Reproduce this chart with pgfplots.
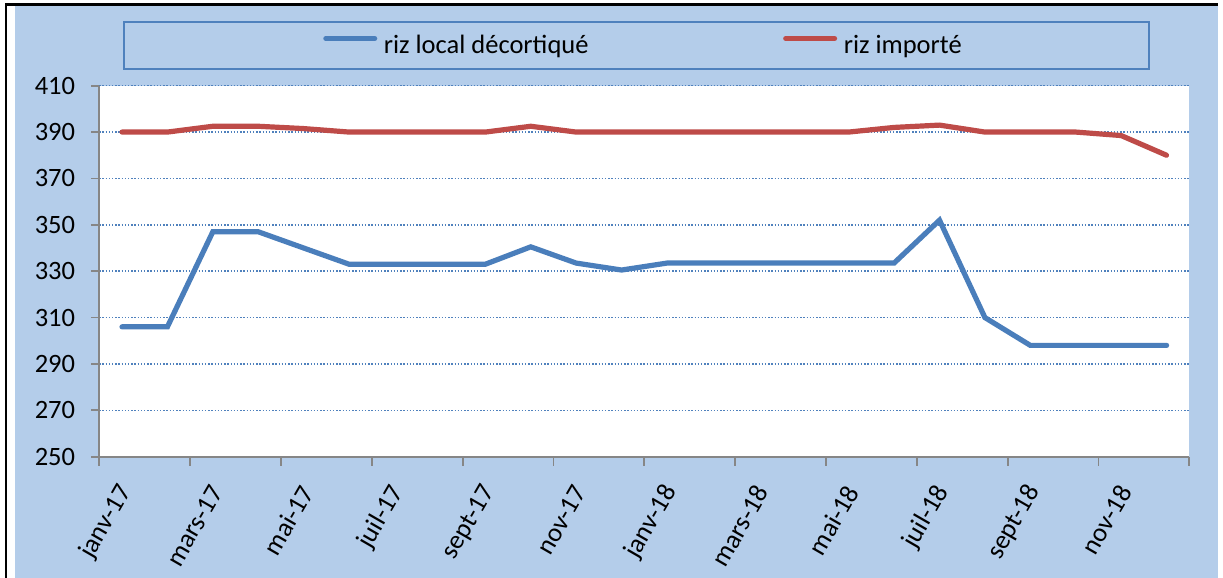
\documentclass[border=0pt]{standalone}
\usepackage{pgfplots}
\pgfplotsset{compat=1.18}
\usepackage{fontspec}
\setmainfont{Carlito}
\definecolor{bgblue}{RGB}{180,205,234}
\definecolor{gridblue}{RGB}{79,129,189}
\definecolor{lineblue}{RGB}{74,126,187}
\definecolor{linered}{RGB}{190,75,72}
\definecolor{axisgrey}{RGB}{134,134,134}
\newcommand{\cf}{\fontsize{26.5bp}{31bp}\selectfont}
\begin{document}
\begin{tikzpicture}[x=1bp,y=1bp]
\useasboundingbox (-99.3,-121.3) rectangle (1123.7,456.7);
\fill[white] (-99.3,-121.3) rectangle (1123.7,456.7);
\fill[bgblue] (-84.3,-121.3) rectangle (1118.7,450.7);
\draw[black, line width=2.5bp] (-93.3,-121.3) -- (-93.3,452) -- (1118.7,452);
\draw[gridblue, line width=2bp] (24.7,387.4) rectangle (1049.7,434.7);
\begin{axis}[
  at={(0,0)}, anchor=south west, scale only axis,
  width=1090bp, height=371bp,
  xmin=-0.5, xmax=23.5, ymin=250, ymax=410,
  axis background/.style={fill=white},
  axis x line*=bottom, axis y line*=left,
  axis line style={axisgrey, line width=1.8bp},
  xtick={0,2,...,22},
  xticklabels={janv-17,mars-17,mai-17,juil-17,sept-17,nov-17,janv-18,mars-18,mai-18,juil-18,sept-18,nov-18},
  minor xtick={-0.5,1.5,...,23.5},
  ytick={250,270,...,410},
  tick align=outside,
  major tick length=8bp, minor tick length=9bp,
  tick style={axisgrey, line width=1.8bp},
  major x tick style={draw=none},
  ymajorgrids,
  grid style={gridblue, line width=1.4bp, dash pattern=on 1.4bp off 1.8bp},
  /pgf/number format/assume math mode=true,
  xticklabel style={font=\cf, inner sep=0pt, xshift=4bp, yshift=-23bp, rotate=60, anchor=east},
  yticklabel style={font=\cf, inner sep=0pt, xshift=-16bp},
  legend columns=2,
  legend style={at={(axis description cs:0.2031,1.1097)}, anchor=west, draw=none, fill=none,
    inner sep=0pt, outer sep=0pt, nodes={inner sep=0pt, font=\cf},
    /tikz/every odd column/.append style={column sep=4bp},
    /tikz/every even column/.append style={column sep=192bp}},
  legend image code/.code={\path (0,0) (54bp,0); \draw[#1, line cap=round] (2.6bp,6.5bp) -- (51.4bp,6.5bp);},
]
\addplot[lineblue, line width=5.2bp, line cap=round] coordinates {
(0,306) (1,306) (2,347) (3,347) (4,340) (5,333) (6,333) (7,333) (8,333) (9,340.5) (10,333.5) (11,330.5)
(12,333.5) (13,333.5) (14,333.5) (15,333.5) (16,333.5) (17,333.5) (18,352) (19,310) (20,298) (21,298) (22,298) (23,298)};
\addlegendentry{riz local décortiqué}
\addplot[linered, line width=5.2bp, line cap=round] coordinates {
(0,390) (1,390) (2,392.5) (3,392.5) (4,391.5) (5,390) (6,390) (7,390) (8,390) (9,392.5) (10,390) (11,390)
(12,390) (13,390) (14,390) (15,390) (16,390) (17,392) (18,393) (19,390) (20,390) (21,390) (22,388.5) (23,380)};
\addlegendentry{riz importé}
\end{axis}
\end{tikzpicture}
\end{document}
